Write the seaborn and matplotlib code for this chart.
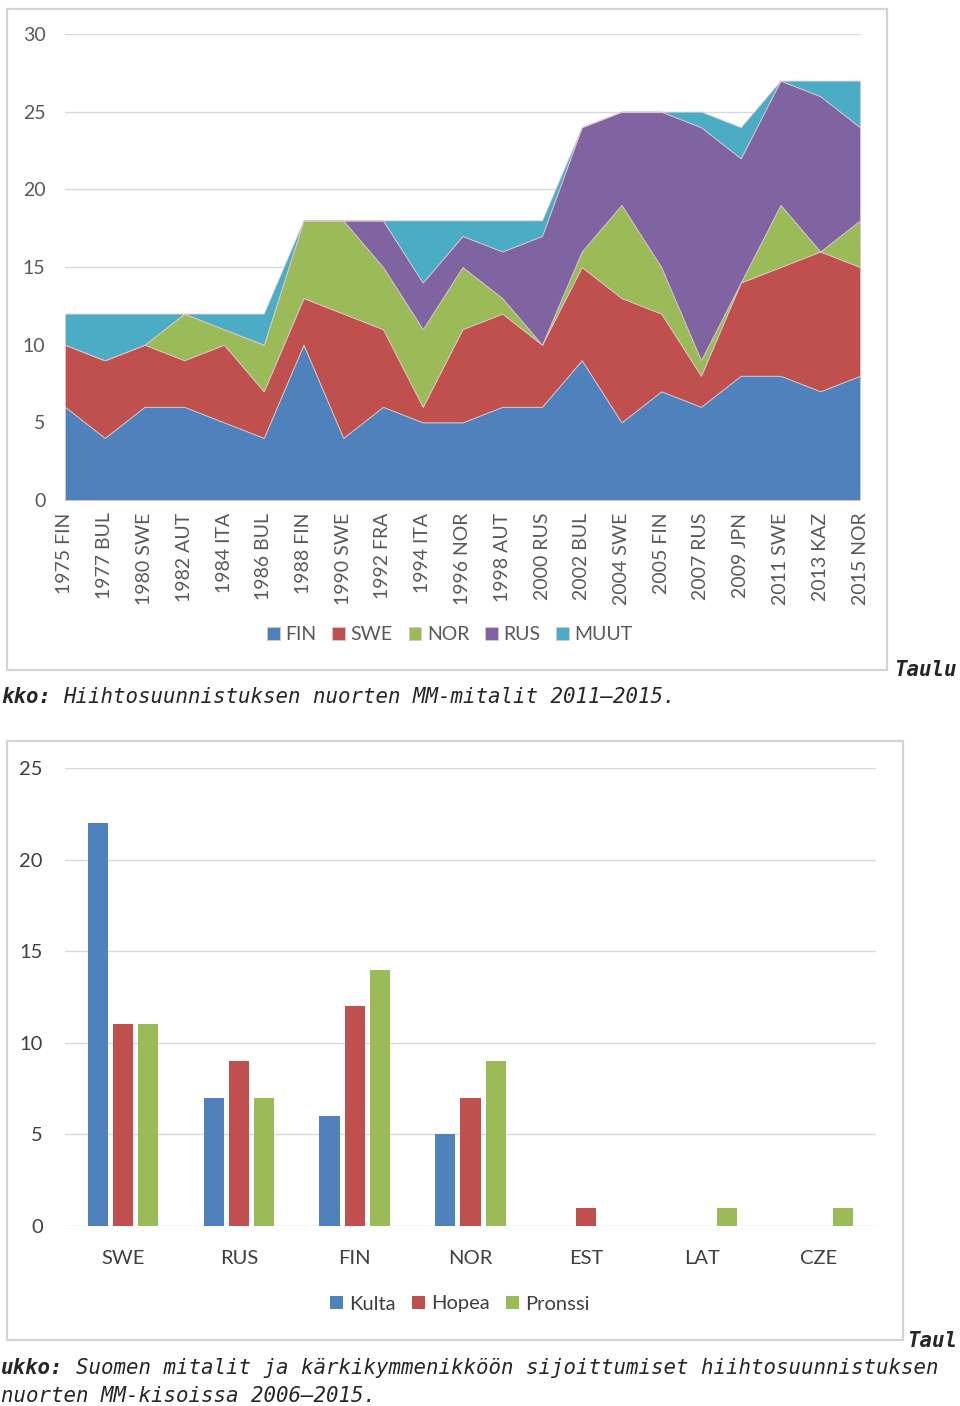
import matplotlib

matplotlib.use("Agg")
import matplotlib.pyplot as plt
from matplotlib.patches import Rectangle
import numpy as np
import pandas as pd
import seaborn as sns

# --- data: top chart (medals per championship, stacked) ---
EVENTS = [
    "1975 FIN", "1977 BUL", "1980 SWE", "1982 AUT", "1984 ITA", "1986 BUL",
    "1988 FIN", "1990 SWE", "1992 FRA", "1994 ITA", "1996 NOR", "1998 AUT",
    "2000 RUS", "2002 BUL", "2004 SWE", "2005 FIN", "2007 RUS", "2009 JPN",
    "2011 SWE", "2013 KAZ", "2015 NOR",
]
FIN = [6, 4, 6, 6, 5, 4, 10, 4, 6, 5, 5, 6, 6, 9, 5, 7, 6, 8, 8, 7, 8]
SWE = [4, 5, 4, 3, 5, 3, 3, 8, 5, 1, 6, 6, 4, 6, 8, 5, 2, 6, 7, 9, 7]
NOR = [0, 0, 0, 3, 1, 3, 5, 6, 4, 5, 4, 1, 0, 1, 6, 3, 1, 0, 4, 0, 3]
RUS = [0, 0, 0, 0, 0, 0, 0, 0, 3, 3, 2, 3, 7, 8, 6, 10, 15, 8, 8, 10, 6]
MUUT = [2, 3, 2, 0, 1, 2, 0, 0, 0, 4, 1, 2, 1, 0, 0, 0, 1, 2, 0, 1, 3]
AREA_LABELS = ["FIN", "SWE", "NOR", "RUS", "MUUT"]
AREA_COLORS = ["#4F81BD", "#C0504D", "#9BBB59", "#8064A2", "#4BACC6"]

# --- data: bottom chart (medals by nation 2006-2015) ---
NATIONS = ["SWE", "RUS", "FIN", "NOR", "EST", "LAT", "CZE"]
KULTA = [22, 7, 6, 5, 0, 0, 0]
HOPEA = [11, 9, 12, 7, 1, 0, 0]
PRONSSI = [11, 7, 14, 9, 0, 1, 1]
MEDAL_LABELS = ["Kulta", "Hopea", "Pronssi"]
MEDAL_COLORS = ["#4F81BD", "#C0504D", "#9BBB59"]

W, H = 960, 1406
sns.set_style("white")
plt.rcParams["font.family"] = ["Lato", "DejaVu Sans"]

fig = plt.figure(figsize=(W / 100, H / 100), dpi=100)


def px_box(left, top, right, bottom):
    """axes rect in figure fractions from pixel edges"""
    return [left / W, 1 - bottom / H, (right - left) / W, (bottom - top) / H]


def frame(left, top, right, bottom):
    fig.add_artist(Rectangle((left / W, 1 - bottom / H), (right - left) / W,
                             (bottom - top) / H, transform=fig.transFigure,
                             fill=False, edgecolor="#d4d4d4", lw=1.6))


grid_kw = dict(color="#d9d9d9", lw=1.0)

# ---------------- top: stacked area ----------------
frame(7, 9, 887, 670)
ax1 = fig.add_axes(px_box(65, 34, 860, 500))
x = np.arange(len(EVENTS))
ax1.stackplot(x, FIN, SWE, NOR, RUS, MUUT, labels=AREA_LABELS,
              colors=AREA_COLORS, edgecolor="#d8c8c8", linewidth=0.6, zorder=2)
ax1.set_xlim(0, len(EVENTS) - 1)
ax1.set_ylim(0, 30)
ax1.set_yticks(range(0, 31, 5))
ax1.yaxis.grid(True, **grid_kw)
ax1.set_axisbelow(True)
ax1.set_xticks(x)
ax1.set_xticklabels(EVENTS, rotation=90, fontsize=14, color="#595959")
ax1.tick_params(axis="x", length=6, color="#d0d0d0", pad=3)
ax1.tick_params(axis="y", length=0, labelsize=14, labelcolor="#595959", pad=14)
sns.despine(ax=ax1, left=True, bottom=True, top=True, right=True)
ax1.legend(loc="center", bbox_to_anchor=(450 / W, 1 - 635 / H),
           bbox_transform=fig.transFigure, ncol=5, frameon=False,
           fontsize=14, labelcolor="#595959", handlelength=0.65,
           handleheight=0.65, handletextpad=0.3, columnspacing=0.8)

# ---------------- bottom: grouped bars ----------------
frame(7, 741, 903, 1340)
ax2 = fig.add_axes(px_box(65, 768, 876, 1226))
df = pd.DataFrame({
    "maa": NATIONS * 3,
    "mitali": [m for m in MEDAL_LABELS for _ in NATIONS],
    "lkm": KULTA + HOPEA + PRONSSI,
})
sns.barplot(data=df, x="maa", y="lkm", hue="mitali", hue_order=MEDAL_LABELS,
            order=NATIONS, palette=MEDAL_COLORS, saturation=1, width=0.65,
            gap=0.2, linewidth=0, ax=ax2, zorder=2)
ax2.set_xlim(-0.5, len(NATIONS) - 0.5)
ax2.set_ylim(0, 25)
ax2.set_yticks(range(0, 26, 5))
ax2.yaxis.grid(True, **grid_kw)
ax2.set_axisbelow(True)
ax2.set_xlabel("")
ax2.set_ylabel("")
ax2.tick_params(axis="x", length=0, labelsize=14.5, labelcolor="#404040", pad=17)
ax2.tick_params(axis="y", length=0, labelsize=14.5, labelcolor="#404040", pad=16)
sns.despine(ax=ax2, left=True, bottom=True, top=True, right=True)
ax2.legend(loc="center", bbox_to_anchor=(460 / W, 1 - 1304 / H),
           bbox_transform=fig.transFigure, ncol=3, frameon=False,
           fontsize=14.5, labelcolor="#404040", handlelength=0.65,
           handleheight=0.65, handletextpad=0.3, columnspacing=0.8)

# ---------------- captions ----------------
mono = dict(family="DejaVu Sans Mono", fontsize=14.93, style="italic", va="center")
bold = dict(mono, weight="bold")
fig.text(957 / W, 1 - 670 / H, "Taulu", ha="right", **bold)
fig.text(1 / W, 1 - 697 / H, "kko:", ha="left", **bold)
fig.text(63 / W, 1 - 697 / H, "Hiihtosuunnistuksen nuorten MM-mitalit 2011–2015.",
         ha="left", **mono)
fig.text(957 / W, 1 - 1341 / H, "Taul", ha="right", **bold)
fig.text(1 / W, 1 - 1368 / H, "ukko:", ha="left", **bold)
fig.text(76 / W, 1 - 1368 / H,
         "Suomen mitalit ja kärkikymmenikköön sijoittumiset hiihtosuunnistuksen",
         ha="left", **mono)
fig.text(1 / W, 1 - 1396 / H, "nuorten MM-kisoissa 2006–2015.", ha="left", **mono)

fig.savefig("out.png", dpi=100)
